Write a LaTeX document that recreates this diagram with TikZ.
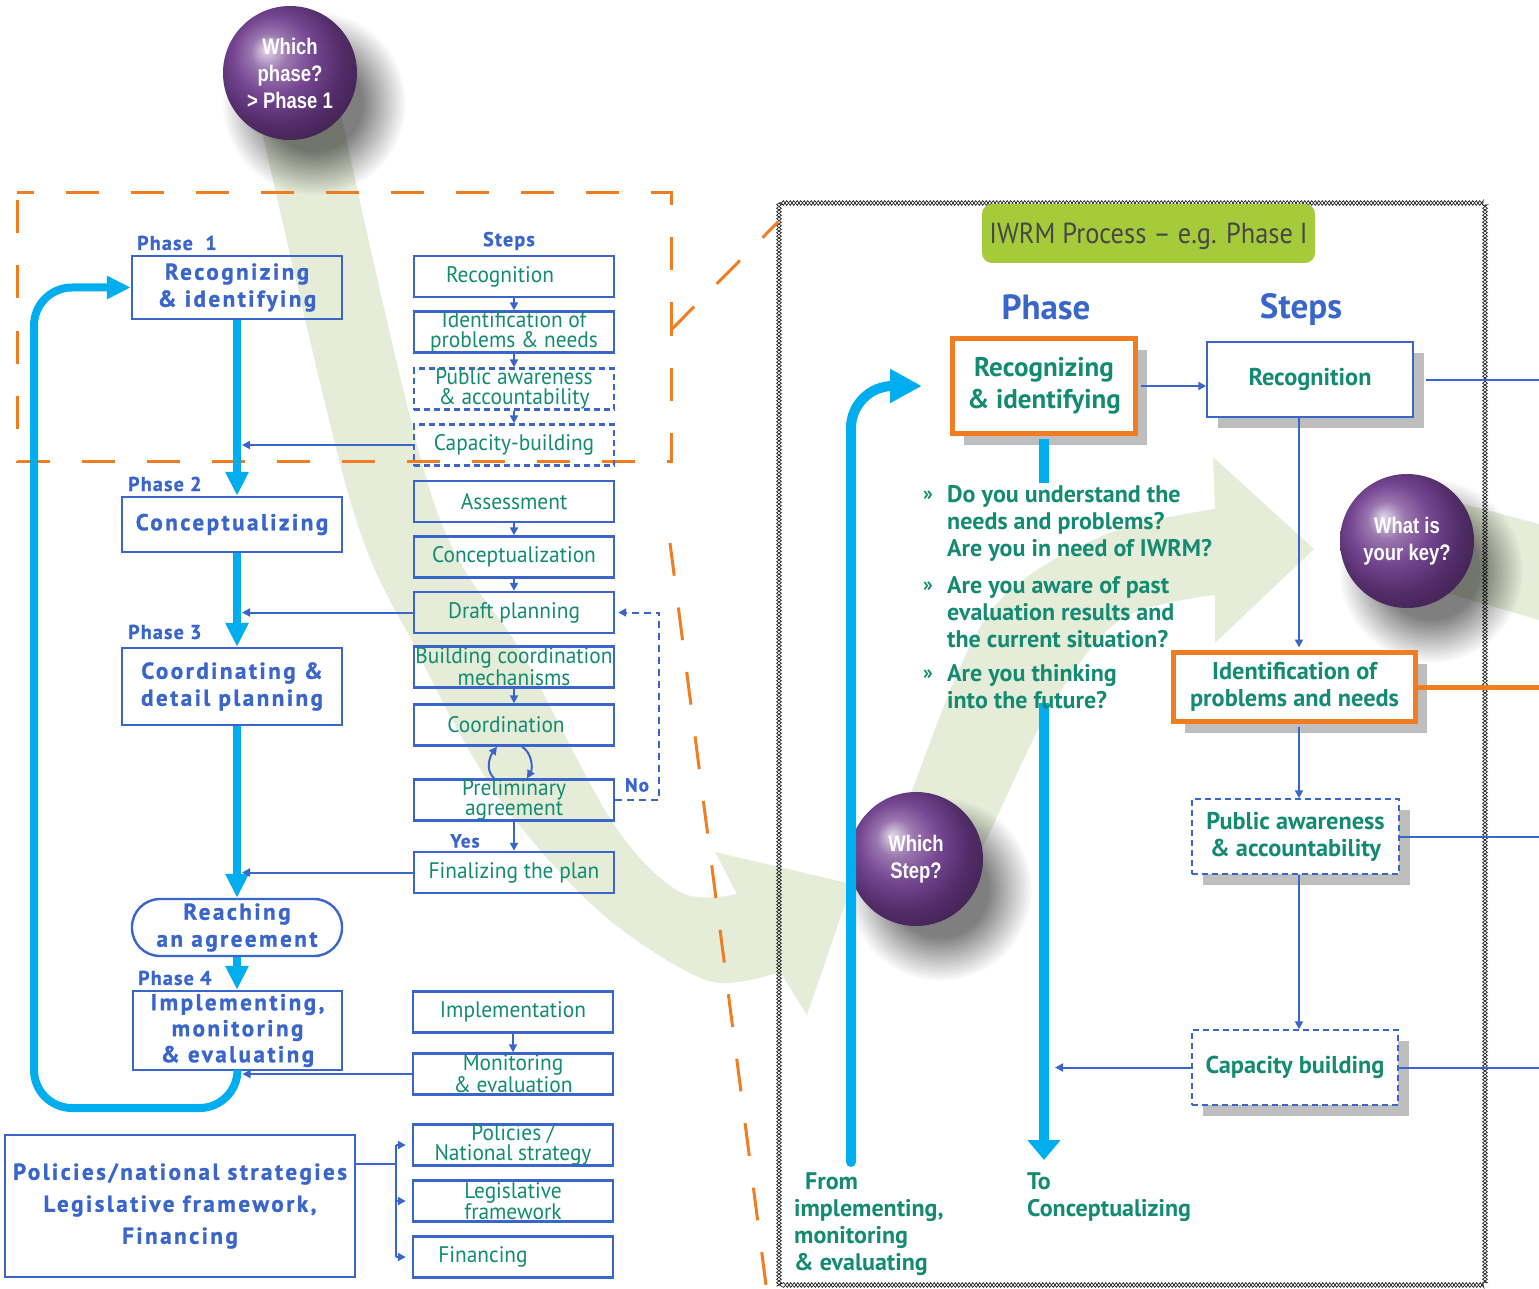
\documentclass[tikz,border=0pt]{standalone}
\usepackage{fontspec}
\setmainfont{PT Sans}
\newfontfamily\stepf{PT Sans}[FakeStretch=0.95]
\newfontfamily\heavyf{PT Sans}[UprightFont={* Bold}, LetterSpace=11, FakeBold=1.2]
\newfontfamily\labf{PT Sans}[UprightFont={* Bold}, LetterSpace=6, FakeBold=1]
\newfontfamily\boldf{PT Sans}[UprightFont={* Bold}]
\newfontfamily\ballf{Liberation Sans}[UprightFont={* Bold}, FakeStretch=0.82]
\newfontfamily\condf{PT Sans}[FakeStretch=0.91]
\usetikzlibrary{arrows.meta,shadows,fadings,decorations.pathmorphing,calc}
\definecolor{lblue}{HTML}{3A66CC}
\definecolor{cyanc}{HTML}{00AEEF}
\definecolor{tealc}{HTML}{138A72}
\definecolor{orangec}{HTML}{F07D22}
\definecolor{bandc}{HTML}{E5ECD8}
\definecolor{iwrmg}{HTML}{A6CB3A}
\definecolor{ballc}{HTML}{6E3C8C}
\definecolor{shadowg}{HTML}{BEBEBE}
\pgfdeclareradialshading{pball}{\pgfqpoint{-9bp}{9bp}}{color(0bp)=(ballc!20!white); color(7bp)=(ballc!70!white); color(15bp)=(ballc!95!white); color(24bp)=(ballc!75!black); color(36bp)=(ballc!50!black); color(50bp)=(ballc!50!black)}
\pgfdeclareradialshading{softdiscsh}{\pgfpointorigin}{color(0bp)=(pgftransparent!0); color(13bp)=(pgftransparent!0); color(25bp)=(pgftransparent!100); color(50bp)=(pgftransparent!100)}
\pgfdeclarefading{softdisc}{\pgfuseshading{softdiscsh}}
\tikzset{
 stepbox/.style={draw=lblue, line width=2.4pt, minimum width=200pt, minimum height=41pt, inner sep=0pt, text=tealc, align=center, font=\stepf\fontsize{22.5pt}{19.5pt}\selectfont},
 dstep/.style={stepbox, dash pattern=on 6pt off 4pt},
 phasebox/.style={draw=lblue, line width=2.4pt, inner sep=0pt, text=lblue, align=center, font=\heavyf\fontsize{23pt}{27pt}\selectfont},
 plabel/.style={text=lblue, font=\labf\fontsize{20pt}{20pt}\selectfont, inner sep=0pt},
 sarrow/.style={draw=lblue, line width=2pt, -{Triangle[length=8pt,width=8pt]}},
 sline/.style={draw=lblue, line width=2pt},
 bigarrow/.style={draw=cyanc, line width=8pt, -{Triangle[length=24pt,width=22pt]}},
 ball/.style={circle, minimum size=134pt, inner sep=0pt, shading=pball, text=white, align=center, font=\ballf\fontsize{22.5pt}{27pt}\selectfont},
 ballshadow/.style={fill=black, opacity=0.5, path fading=softdisc},
 rbox/.style={draw=lblue, line width=1.5pt, fill=white, inner sep=0pt, text=tealc, align=center, font=\boldf\fontsize{24.3pt}{27pt}\selectfont, drop shadow={shadow xshift=11pt, shadow yshift=-11pt, fill=shadowg, opacity=1}},
 drbox/.style={rbox, dash pattern=on 6pt off 4pt},
 obox/.style={rbox, draw=orangec, line width=5pt},
 odash/.style={draw=orangec, line width=3pt, dash pattern=on 33pt off 32pt},
 qtext/.style={text=tealc, align=left, inner sep=0pt, font=\boldf\fontsize{24pt}{27pt}\selectfont},
 zig/.style={draw=black!85, line width=0.7pt, decorate, decoration={zigzag, segment length=7pt, amplitude=2.4pt}},
}
\begin{document}
\begin{tikzpicture}[x=1pt, y=-1pt]
\useasboundingbox (0,0) rectangle (1539,1289);
% green bands
\fill[bandc] plot[smooth,tension=0.55] coordinates {(255,100) (350,500) (417,651) (490,785) (567,880) (633,938) (713,982) (780,972)} -- (807,1015) -- (852,884) -- (715,852) -- plot[smooth,tension=0.55] coordinates {(737,894) (680,892) (613,823) (523,655) (433,500) (338,100)} -- cycle;
\fill[bandc] plot[smooth,tension=0.55] coordinates {(905,830) (914,785) (990,612) (1102,536) (1215,509)} -- (1213,457) -- (1314,549) -- (1215,643) -- plot[smooth,tension=0.55] coordinates {(1215,595) (1120,620) (1050,708) (985,842) (960,880)} -- cycle;
\fill[bandc] (1430,495) -- (1539,524) -- (1539,620) -- (1430,588) -- cycle;
% right frame
\draw[zig] (779,203) rectangle (1485,1285);
\draw[zig, decoration={mirror}] (779,203) rectangle (1485,1285);
% orange dashed frame and lines
\draw[odash, dash phase=16.5pt] (17,193) -- (671,193) -- (671,461) -- (17,461) -- cycle;
\draw[odash] (671,330) -- (778,222);
\draw[odash] (670,543) -- (766,1285);
% balls with soft shadows
\coordinate (cb1) at (290,73);
\coordinate (cb2) at (916,859);
\coordinate (cb3) at (1407,541);
\fill[ballshadow] ($(cb1)+(24,30)$) circle (92pt);
\fill[ballshadow] ($(cb2)+(24,30)$) circle (92pt);
\fill[ballshadow] ($(cb3)+(24,30)$) circle (92pt);
\node[ball] (bphase) at (cb1) {Which\\phase?\\> Phase 1};
\node[ball] (bstep) at (cb2) {Which\\Step?};
\node[ball] (bkey) at (cb3) {What is\\your key?};
% ---------------- left panel ----------------
\node[plabel, anchor=west] (l1) at (137,243) {Phase\ \ 1};
\node[plabel, anchor=west] (l2) at (128,484) {Phase 2};
\node[plabel, anchor=west] (l3) at (128,632) {Phase 3};
\node[plabel, anchor=west] (l4) at (138,978) {Phase 4};
\node[plabel] (lsteps) at (509,241) {Steps};
\node[phasebox, minimum width=210pt, minimum height=63pt] (p1) at (237,287.5) {Recognizing\\\& identifying};
\node[phasebox, minimum width=220pt, minimum height=55pt] (p2) at (232,524.5) {Conceptualizing};
\node[phasebox, minimum width=220pt, minimum height=77pt] (p3) at (232,686.5) {Coordinating \&\\detail planning};
\node[phasebox, minimum width=210pt, minimum height=57pt, rounded corners=28pt] (pr) at (237,927.5) {Reaching\\an agreement};
\node[phasebox, minimum width=209pt, minimum height=79pt, font=\heavyf\fontsize{23pt}{26pt}\selectfont] (p4) at (237.5,1030.5) {Implementing,\\monitoring\\\& evaluating};
\node[phasebox, minimum width=350pt, minimum height=142pt, font=\heavyf\fontsize{23pt}{32pt}\selectfont] (pol) at (180,1206) {Policies/national strategies\\Legislative framework,\\Financing};
\node[stepbox] (s1) at (514,276.5) {\hspace*{-28pt}Recognition};
\node[stepbox] (s2) at (514,332) {Identification of\\problems \& needs};
\node[dstep] (s3) at (514,389) {Public awareness\\\& accountability};
\node[dstep] (s4) at (514,445) {Capacity-building};
\node[stepbox] (s5) at (514,501.5) {Assessment};
\node[stepbox] (s6) at (514,557) {Conceptualization};
\node[stepbox] (s7) at (514,612.5) {Draft planning};
\node[stepbox] (s8) at (514,667) {Building coordination\\mechanisms};
\node[stepbox] (s9) at (514,725) {\hspace*{-16pt}Coordination};
\node[stepbox] (s10) at (514,800) {Preliminary\\agreement};
\node[stepbox] (s11) at (514,872.5) {Finalizing the plan};
\node[stepbox] (s12) at (513,1012) {Implementation};
\node[stepbox] (s13) at (513,1074) {Monitoring\\\& evaluation};
\node[stepbox] (s14) at (513,1145) {Policies /\\National strategy};
\node[stepbox] (s15) at (513,1201) {Legislative\\framework};
\node[stepbox] (s16) at (513,1257) {\hspace*{-60pt}Financing};
\node[plabel, font=\labf\fontsize{19pt}{19pt}\selectfont] (lno) at (637,785) {No};
\node[plabel, font=\labf\fontsize{19pt}{19pt}\selectfont] (lyes) at (465,841) {Yes};
% step arrows
\draw[sarrow] (s1.south) -- (s2.north);
\draw[sarrow] (s2.south) -- (s3.north);
\draw[sarrow] (s3.south) -- (s4.north);
\draw[sarrow] (s5.south) -- (s6.north);
\draw[sarrow] (s6.south) -- (s7.north);
\draw[sarrow] (s8.south) -- (s9.north);
\draw[sarrow] (s10.south) -- (s11.north);
\draw[sarrow] (s12.south) -- (s13.north);
\draw[sarrow] ([xshift=-20pt]s10.north) .. controls +(-10,-10) and +(-6,8) .. ([xshift=-17pt]s9.south);
\draw[sarrow] ([xshift=8pt]s9.south) .. controls +(10,6) and +(6,-10) .. ([xshift=13pt]s10.north);
\draw[sarrow, dash pattern=on 7pt off 5pt, shorten >=3pt] (s10.east) -- ++(44,0) |- (s7.east);
% phase arrows
\draw[bigarrow] (p1.south) -- (p1.south |- p2.north);
\draw[bigarrow] (p1.south |- p2.south) -- (p1.south |- p3.north);
\draw[bigarrow] (p1.south |- p3.south) -- (pr.north);
\draw[bigarrow] (pr.south) -- (pr.south |- p4.north);
\coordinate (lbl) at (34,1108);
\draw[bigarrow, rounded corners=38pt] (p4.south) -- (p4.south |- lbl) -- (lbl) -- (lbl |- p1.west) -- (p1.west);
\draw[sarrow, shorten >=5pt] (s4.west) -- (s4.west -| p1.south);
\draw[sarrow, shorten >=5pt] (s7.west) -- (s7.west -| p1.south);
\draw[sarrow, shorten >=5pt] (s11.west) -- (s11.west -| p1.south);
\draw[sarrow, shorten >=5pt] (s13.west) -- (s13.west -| p4.south);
\coordinate (pj) at (396,1164);
\draw[sline] (pol.east |- pj) -- (pj);
\draw[sline] (pj |- s14.west) -- (pj |- s16.west);
\draw[sarrow, shorten >=6pt] (pj |- s14.west) -- (s14.west);
\draw[sarrow, shorten >=6pt] (pj |- s15.west) -- (s15.west);
\draw[sarrow, shorten >=6pt] (pj |- s16.west) -- (s16.west);
% ---------------- right panel ----------------
\node[fill=iwrmg, rounded corners=10pt, minimum width=333pt, minimum height=59pt, inner sep=0pt, text depth=0pt, text=black!72, font=\condf\fontsize{29pt}{29pt}\selectfont] (iw) at (1148.5,233.5) {IWRM Process \textendash\ e.g. Phase I};
\node[text=lblue, inner sep=0pt, font=\boldf\fontsize{35pt}{35pt}\selectfont] (hph) at (1046,307) {Phase};
\node[text=lblue, inner sep=0pt, font=\boldf\fontsize{35pt}{35pt}\selectfont] (hst) at (1301,310) {Steps};
\node[obox, minimum width=183pt, minimum height=95pt, font=\boldf\fontsize{27pt}{32pt}\selectfont] (rp) at (1044,386) {Recognizing\\\& identifying};
\node[rbox, minimum width=206pt, minimum height=75pt] (rr) at (1310,379.5) {Recognition};
\node[obox, minimum width=242pt, minimum height=69pt] (ri) at (1294.5,687) {Identification of\\problems and needs};
\node[drbox, minimum width=207pt, minimum height=75pt] (rpub) at (1295.5,836.5) {Public awareness\\\& accountability};
\node[drbox, minimum width=206pt, minimum height=75pt] (rcap) at (1295,1067.5) {Capacity building};
\coordinate (redge) at (1539,0);
\coordinate (colx) at (1299,0);
\draw[sline] (rr.east) ++(12,0) -- (rr.east -| redge);
\draw[sline] (ri.east) ++(6,2) -- ($(ri.east -| redge)+(0,2)$);
\draw[draw=orangec, line width=5pt] (ri.east) -- (ri.east -| redge);
\draw[sline] (rpub.east) -- (rpub.east -| redge);
\draw[sline] (rcap.east) -- (rcap.east -| redge);
\draw[sarrow, shorten <=3pt] (rp.east) -- (rp.east -| rr.west);
\draw[sarrow, shorten >=2.5pt] (rr.south -| colx) -- (ri.north -| colx);
\draw[sarrow, shorten <=2.5pt] (ri.south -| colx) -- (rpub.north -| colx);
\draw[sarrow] (rpub.south -| colx) -- (rcap.north -| colx);
\coordinate (stubend) at (1044,483);
\coordinate (ctop) at (1044,703);
\coordinate (cbot) at (1044,1160);
\coordinate (cfrom) at (851,1162);
\draw[cyanc, line width=10pt, shorten <=2.5pt] (rp.south) -- (rp.south |- stubend);
\draw[cyanc, line width=10pt, -{Triangle[length=20pt,width=32pt]}] (ctop) -- (cbot);
\draw[sarrow, shorten >=11pt] (rcap.west) -- (rcap.west -| cbot);
\draw[cyanc, line width=10pt, line cap=round, rounded corners=42pt, -{Triangle[length=32pt,width=32pt]}, shorten >=28pt] (cfrom) |- (rp.west);
\node[text=tealc, inner sep=0pt, font=\boldf\fontsize{20pt}{20pt}\selectfont] (bu1) at (928,496) {»};
\node[text=tealc, inner sep=0pt, font=\boldf\fontsize{20pt}{20pt}\selectfont] (bu2) at (928,587) {»};
\node[text=tealc, inner sep=0pt, font=\boldf\fontsize{20pt}{20pt}\selectfont] (bu3) at (928,675) {»};
\node[qtext, anchor=north west] (q1) at (947,485) {Do you understand the\\needs and problems?\\Are you in need of IWRM?};
\node[qtext, anchor=north west] (q2) at (947,576) {Are you aware of past\\evaluation results and\\the current situation?};
\node[qtext, anchor=north west] (q3) at (947,664) {Are you thinking\\into the future?};
\node[qtext, anchor=north west] (tfrom) at (794,1172) {\hspace*{11pt}From\\implementing,\\monitoring\\\& evaluating};
\node[qtext, anchor=north west] (tto) at (1027,1172) {To\\Conceptualizing};
\end{tikzpicture}
\end{document}
